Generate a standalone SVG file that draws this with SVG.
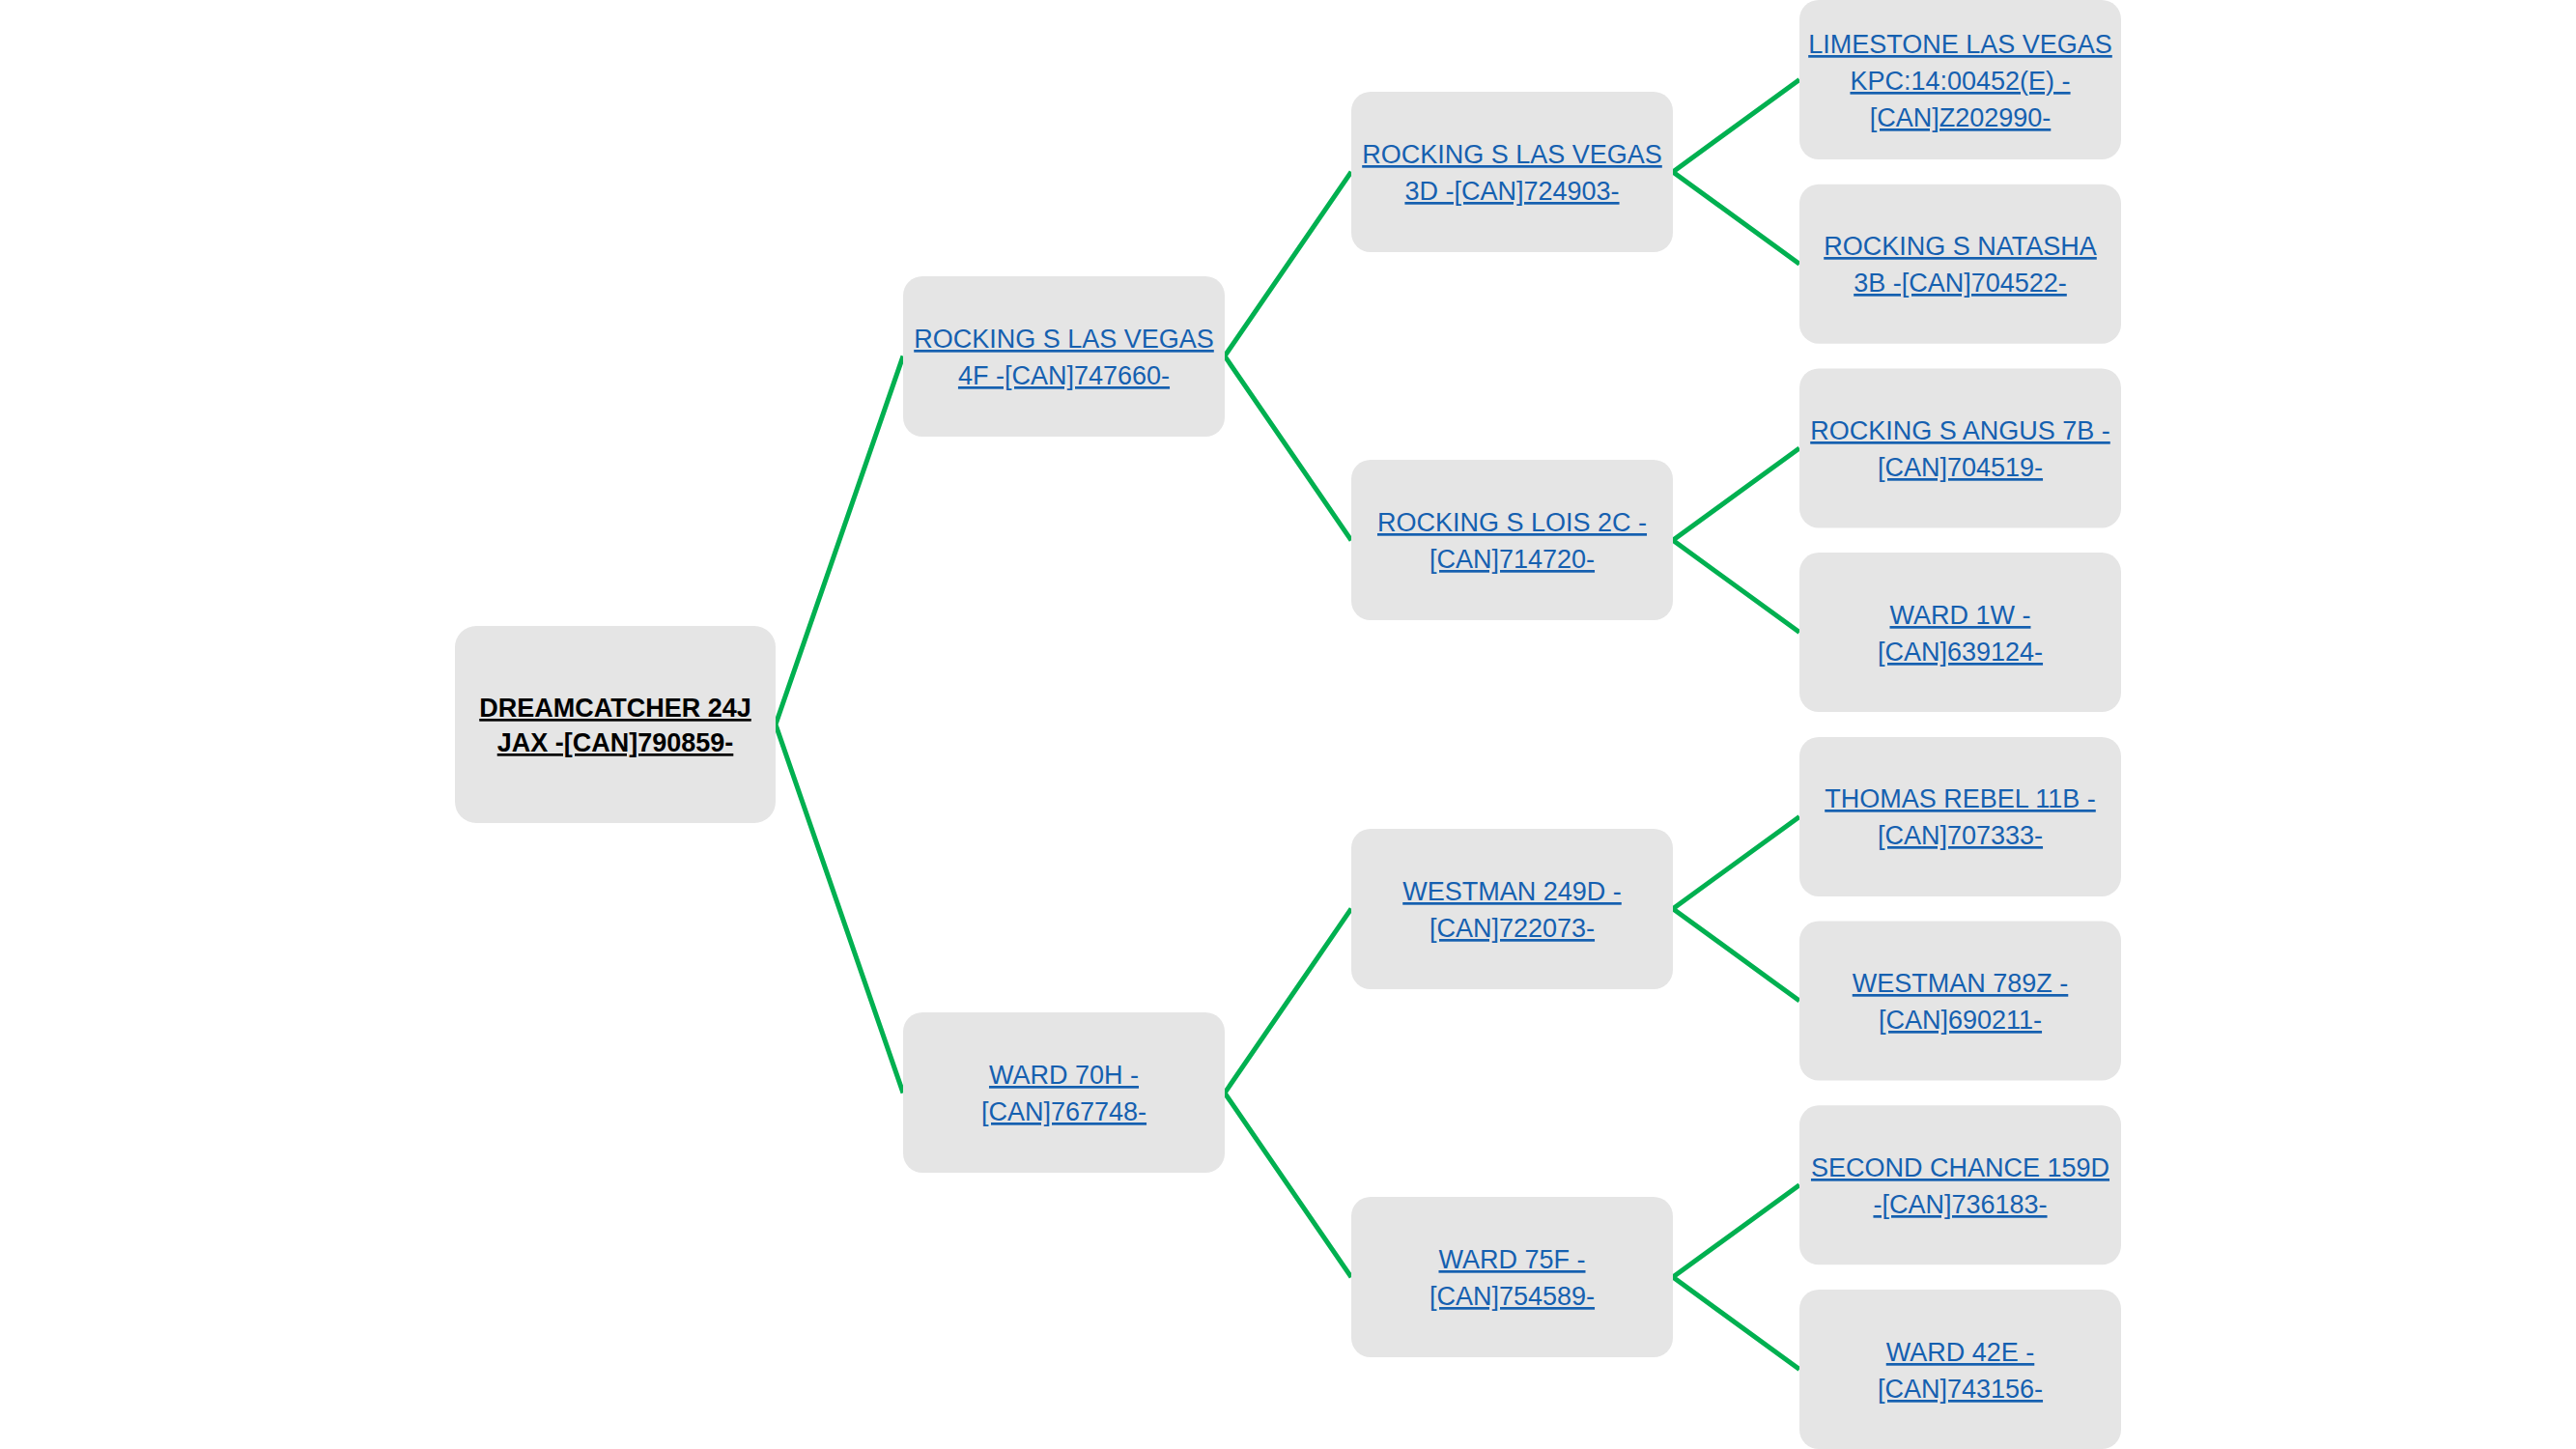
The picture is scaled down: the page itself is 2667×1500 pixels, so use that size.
<svg xmlns="http://www.w3.org/2000/svg" width="2667" height="1500" viewBox="0 0 2667 1500">
<style>
.box{fill:#E5E5E5;}
.t{font-family:"Liberation Sans",Arial,sans-serif;font-size:27px;text-anchor:middle;text-decoration:underline;fill:#1560B0;}
.root{fill:#000;font-weight:bold;}
.c{fill:none;stroke:#00B050;stroke-width:5;stroke-linejoin:miter;}
</style>
<rect width="2667" height="1500" fill="#fff"/>
<g id="connectors">
<path class="c" d="M935,368.6 L803,750 L935,1131.4"/>
<path class="c" d="M1399,177.9 L1268,368.6 L1399,559.3"/>
<path class="c" d="M1399,940.7 L1268,1131.4 L1399,1322.1"/>
<path class="c" d="M1863,82.5 L1732,177.9 L1863,273.2"/>
<path class="c" d="M1863,463.9 L1732,559.3 L1863,654.6"/>
<path class="c" d="M1863,845.4 L1732,940.7 L1863,1036.1"/>
<path class="c" d="M1863,1226.8 L1732,1322.1 L1863,1417.5"/>
</g>
<g id="n-root">
<rect class="box" x="471" y="648" width="332" height="204" rx="22"/>
<text class="t root" x="637" y="742">DREAMCATCHER 24J</text>
<text class="t root" x="637" y="778">JAX -[CAN]790859-</text>
</g>
<g id="n-1a">
<rect class="box" x="935" y="286" width="333" height="166" rx="20"/>
<text class="t" x="1101.5" y="360">ROCKING S LAS VEGAS</text>
<text class="t" x="1101.5" y="398">4F -[CAN]747660-</text>
</g>
<g id="n-1b">
<rect class="box" x="935" y="1048" width="333" height="166" rx="20"/>
<text class="t" x="1101.5" y="1122">WARD 70H -</text>
<text class="t" x="1101.5" y="1160">[CAN]767748-</text>
</g>
<g id="n-2a">
<rect class="box" x="1399" y="95" width="333" height="166" rx="20"/>
<text class="t" x="1565.5" y="169">ROCKING S LAS VEGAS</text>
<text class="t" x="1565.5" y="207">3D -[CAN]724903-</text>
</g>
<g id="n-2b">
<rect class="box" x="1399" y="476" width="333" height="166" rx="20"/>
<text class="t" x="1565.5" y="550">ROCKING S LOIS 2C -</text>
<text class="t" x="1565.5" y="588">[CAN]714720-</text>
</g>
<g id="n-2c">
<rect class="box" x="1399" y="858" width="333" height="166" rx="20"/>
<text class="t" x="1565.5" y="932">WESTMAN 249D -</text>
<text class="t" x="1565.5" y="970">[CAN]722073-</text>
</g>
<g id="n-2d">
<rect class="box" x="1399" y="1239" width="333" height="166" rx="20"/>
<text class="t" x="1565.5" y="1313">WARD 75F -</text>
<text class="t" x="1565.5" y="1351">[CAN]754589-</text>
</g>
<g id="n-3a">
<rect class="box" x="1863" y="0" width="333" height="165" rx="20"/>
<text class="t" x="2029.5" y="55">LIMESTONE LAS VEGAS</text>
<text class="t" x="2029.5" y="93">KPC:14:00452(E) -</text>
<text class="t" x="2029.5" y="131">[CAN]Z202990-</text>
</g>
<g id="n-3b">
<rect class="box" x="1863" y="190.7" width="333" height="165" rx="20"/>
<text class="t" x="2029.5" y="264">ROCKING S NATASHA</text>
<text class="t" x="2029.5" y="302">3B -[CAN]704522-</text>
</g>
<g id="n-3c">
<rect class="box" x="1863" y="381.4" width="333" height="165" rx="20"/>
<text class="t" x="2029.5" y="455">ROCKING S ANGUS 7B -</text>
<text class="t" x="2029.5" y="493">[CAN]704519-</text>
</g>
<g id="n-3d">
<rect class="box" x="1863" y="572.1" width="333" height="165" rx="20"/>
<text class="t" x="2029.5" y="646">WARD 1W -</text>
<text class="t" x="2029.5" y="684">[CAN]639124-</text>
</g>
<g id="n-3e">
<rect class="box" x="1863" y="762.9" width="333" height="165" rx="20"/>
<text class="t" x="2029.5" y="836">THOMAS REBEL 11B -</text>
<text class="t" x="2029.5" y="874">[CAN]707333-</text>
</g>
<g id="n-3f">
<rect class="box" x="1863" y="953.6" width="333" height="165" rx="20"/>
<text class="t" x="2029.5" y="1027">WESTMAN 789Z -</text>
<text class="t" x="2029.5" y="1065">[CAN]690211-</text>
</g>
<g id="n-3g">
<rect class="box" x="1863" y="1144.3" width="333" height="165" rx="20"/>
<text class="t" x="2029.5" y="1218">SECOND CHANCE 159D</text>
<text class="t" x="2029.5" y="1256">-[CAN]736183-</text>
</g>
<g id="n-3h">
<rect class="box" x="1863" y="1335" width="333" height="165" rx="20"/>
<text class="t" x="2029.5" y="1409">WARD 42E -</text>
<text class="t" x="2029.5" y="1447">[CAN]743156-</text>
</g>
</svg>
